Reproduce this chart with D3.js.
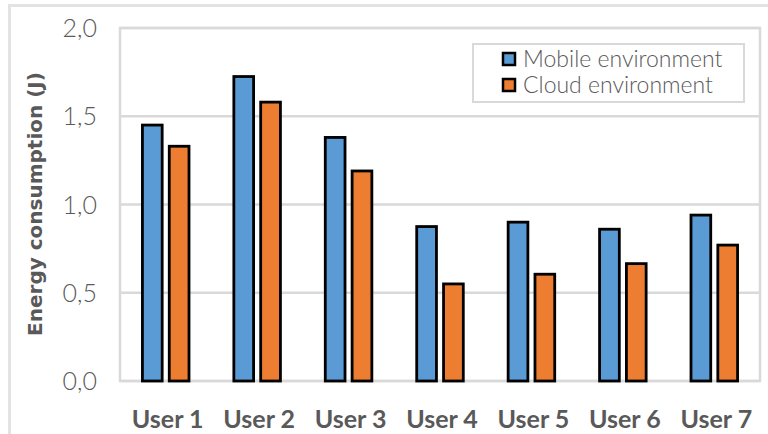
<!DOCTYPE html>
<html>
<head>
<meta charset="utf-8">
<script src="https://cdn.jsdelivr.net/npm/d3@7/dist/d3.min.js"></script>
<style>
  html, body { margin: 0; padding: 0; background: #ffffff; }
  svg { display: block; }
  text { font-family: Lato, "Open Sans", sans-serif; fill: #595959; }
</style>
</head>
<body>
<svg id="chart" width="768" height="434"></svg>
<script>
// Energy consumption per user, in joules
const users = ["User 1", "User 2", "User 3", "User 4", "User 5", "User 6", "User 7"];
const seriesNames = ["Mobile environment", "Cloud environment"];
const mobileValues = [1.45, 1.725, 1.38, 0.875, 0.90, 0.86, 0.94];
const cloudValues = [1.33, 1.58, 1.19, 0.55, 0.605, 0.665, 0.77];
const yTicks = [0, 0.5, 1.0, 1.5, 2.0];
const yTitle = "Energy consumption (J)";

const colors = { "Mobile environment": "#5B9BD5", "Cloud environment": "#ED7D31" };
const valuesBySeries = { "Mobile environment": mobileValues, "Cloud environment": cloudValues };

const svg = d3.select("#chart");
const W = 768, H = 434;
const plot = { left: 120, right: 760, top: 28, bottom: 381 };
const grid = "#d9d9d9";

// outer chart border
svg.append("rect")
  .attr("x", 9.5).attr("y", 5.5)
  .attr("width", W + 20).attr("height", H + 20)
  .attr("fill", "#ffffff").attr("stroke", "#e3e3e3").attr("stroke-width", 3);

const x = d3.scaleBand().domain(users).range([plot.left, plot.right])
  .paddingInner(0.46).paddingOuter(0.23);
const x1 = d3.scaleBand().domain(seriesNames).range([0, x.bandwidth()]).paddingInner(0.16);
const y = d3.scaleLinear().domain([0, 2]).range([plot.bottom, plot.top]);

// plot area frame and horizontal gridlines
svg.append("rect")
  .attr("x", plot.left).attr("y", plot.top)
  .attr("width", plot.right - plot.left).attr("height", plot.bottom - plot.top)
  .attr("fill", "none").attr("stroke", grid).attr("stroke-width", 2.5);

svg.append("g").selectAll("line").data(yTicks).join("line")
  .attr("x1", plot.left).attr("x2", plot.right)
  .attr("y1", d => y(d)).attr("y2", d => y(d))
  .attr("stroke", grid).attr("stroke-width", 2.5);

// y tick labels
const fmt = d => d3.format(".1f")(d).replace(".", ",");
svg.append("g").selectAll("text").data(yTicks).join("text")
  .attr("x", 97).attr("y", d => y(d))
  .attr("dy", "0.36em")
  .attr("text-anchor", "end")
  .attr("font-size", 25)
  .attr("font-weight", 300)
  .text(fmt);

// y axis title
svg.append("text")
  .attr("transform", "translate(42,204) rotate(-90)")
  .attr("text-anchor", "middle")
  .style("font-family", "'DejaVu Sans', sans-serif")
  .attr("font-size", 20)
  .attr("font-weight", 700)
  .text(yTitle);

// bars
const sw = 2.8;
const groups = svg.append("g").selectAll("g").data(users).join("g")
  .attr("transform", d => `translate(${x(d)},0)`);

groups.selectAll("rect")
  .data((u, i) => seriesNames.map(s => ({ s, v: valuesBySeries[s][i] })))
  .join("rect")
  .attr("x", d => x1(d.s) + sw / 2)
  .attr("width", x1.bandwidth() - sw)
  .attr("y", d => y(d.v))
  .attr("height", d => y(0) - y(d.v))
  .attr("fill", d => colors[d.s])
  .attr("stroke", "#000000")
  .attr("stroke-width", sw);

// x category labels
svg.append("g").selectAll("text").data(users).join("text")
  .attr("x", d => x(d) + x.bandwidth() / 2 + 2)
  .attr("y", 428)
  .attr("text-anchor", "middle")
  .attr("font-size", 25)
  .attr("font-weight", 700)
  .text(d => d);

// legend
const legend = svg.append("g");
legend.append("rect")
  .attr("x", 473).attr("y", 44).attr("width", 271).attr("height", 58)
  .attr("fill", "#ffffff").attr("stroke", grid).attr("stroke-width", 2);

const items = legend.selectAll("g").data(seriesNames).join("g")
  .attr("transform", (d, i) => `translate(502,${52 + i * 26})`);
items.append("rect")
  .attr("x", 1).attr("y", 1).attr("width", 12).attr("height", 12)
  .attr("fill", d => colors[d]).attr("stroke", "#000000").attr("stroke-width", 2.5);
items.append("text")
  .attr("x", 21).attr("y", 7).attr("dy", "0.36em")
  .attr("font-size", 23).attr("font-weight", 300)
  .text(d => d);
</script>
</body>
</html>
